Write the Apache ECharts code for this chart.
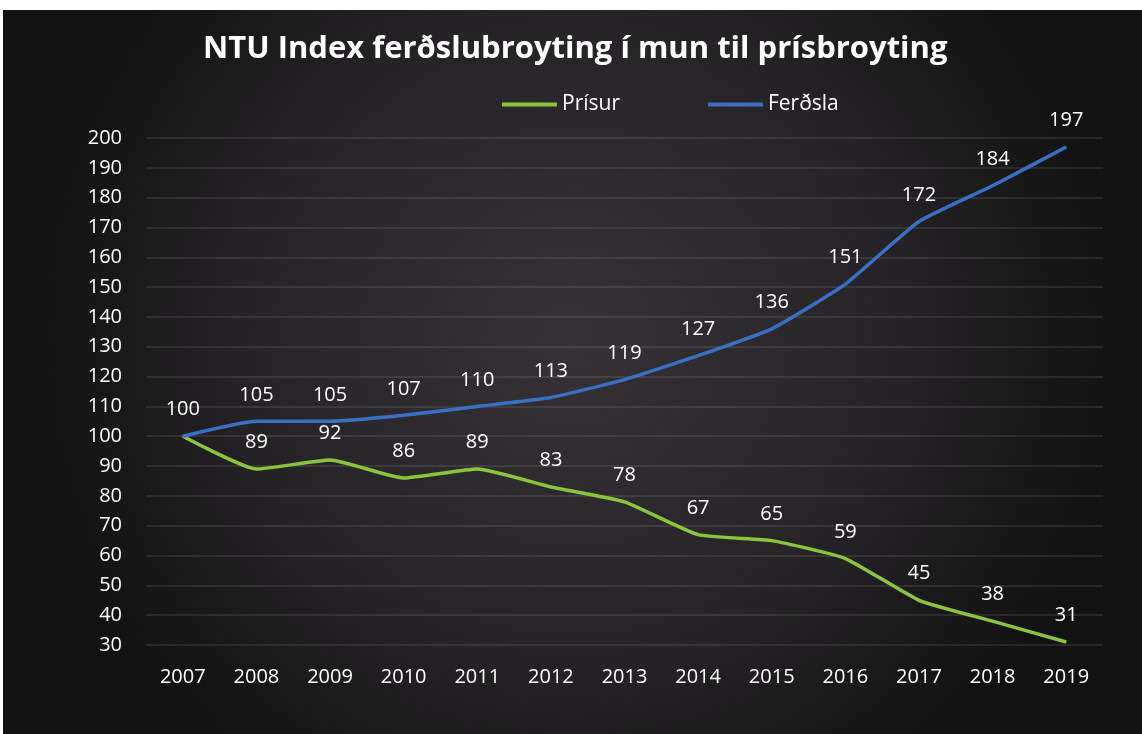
<!DOCTYPE html>
<html>
<head>
<meta charset="utf-8" />
<title>NTU Index</title>
<style>
  html, body { margin: 0; padding: 0; background: #ffffff; }
  #main { position: absolute; left: 3px; top: 10px; width: 1139px; height: 724px; }
</style>
</head>
<body>
<div id="main"></div>
<script src="https://cdn.jsdelivr.net/npm/echarts@6/dist/echarts.min.js"></script>
<script>
// data
var years = ['2007', '2008', '2009', '2010', '2011', '2012', '2013', '2014', '2015', '2016', '2017', '2018', '2019'];
var prisur = [100, 89, 92, 86, 89, 83, 78, 67, 65, 59, 45, 38, 31];
var ferdsla = [100, 105, 105, 107, 110, 113, 119, 127, 136, 151, 172, 184, 197];

var font = 'Open Sans';

// 2007 shares one label (100), so hide the green one
var prisurData = prisur.map(function (v, i) {
  return i === 0 ? { value: v, label: { show: false } } : v;
});

var myChart = echarts.init(document.getElementById('main'));
var option = {
  backgroundColor: {
    type: 'radial', x: 0.5, y: 0.45, r: 0.75,
    colorStops: [
      { offset: 0, color: '#363236' },
      { offset: 0.6, color: '#252325' },
      { offset: 1, color: '#121212' }
    ]
  },
  textStyle: { fontFamily: font },
  title: {
    text: 'NTU Index ferðslubroyting í mun til prísbroyting',
    left: 195,
    top: 19,
    textStyle: { color: '#ffffff', fontSize: 31, fontWeight: 'bold', fontFamily: font }
  },
  legend: {
    top: 79,
    left: 494,
    itemWidth: 55,
    itemHeight: 4,
    itemGap: 88,
    icon: 'rect',
    textStyle: { color: '#ffffff', fontSize: 21, fontFamily: font },
    data: ['Prísur', 'Ferðsla']
  },
  grid: { left: 143, right: 39, top: 128, bottom: 89 },
  xAxis: {
    type: 'category',
    data: years,
    boundaryGap: true,
    axisLine: { show: false },
    axisTick: { show: false },
    axisLabel: { color: '#ffffff', fontSize: 20, margin: 22, fontFamily: font }
  },
  yAxis: {
    type: 'value',
    min: 30,
    max: 200,
    interval: 10,
    axisLine: { show: false },
    axisTick: { show: false },
    axisLabel: { color: '#ffffff', fontSize: 20, margin: 24, fontFamily: font },
    splitLine: { lineStyle: { color: 'rgba(255,255,255,0.09)', width: 2 } }
  },
  series: [
    {
      name: 'Prísur',
      type: 'line',
      data: prisurData,
      smooth: 0.15,
      symbol: 'circle',
      symbolSize: 1,
      itemStyle: { color: '#8cc43c' },
      lineStyle: { color: '#8cc43c', width: 3.5 },
      label: { show: true, position: 'top', distance: 16, color: '#ffffff', fontSize: 20, fontFamily: font }
    },
    {
      name: 'Ferðsla',
      type: 'line',
      data: ferdsla,
      smooth: 0.15,
      symbol: 'circle',
      symbolSize: 1,
      itemStyle: { color: '#3a6fc4' },
      lineStyle: { color: '#3a6fc4', width: 3.5 },
      label: { show: true, position: 'top', distance: 16, color: '#ffffff', fontSize: 20, fontFamily: font }
    }
  ]
};
myChart.setOption(option);
window.onresize = myChart.resize;
</script>
</body>
</html>
